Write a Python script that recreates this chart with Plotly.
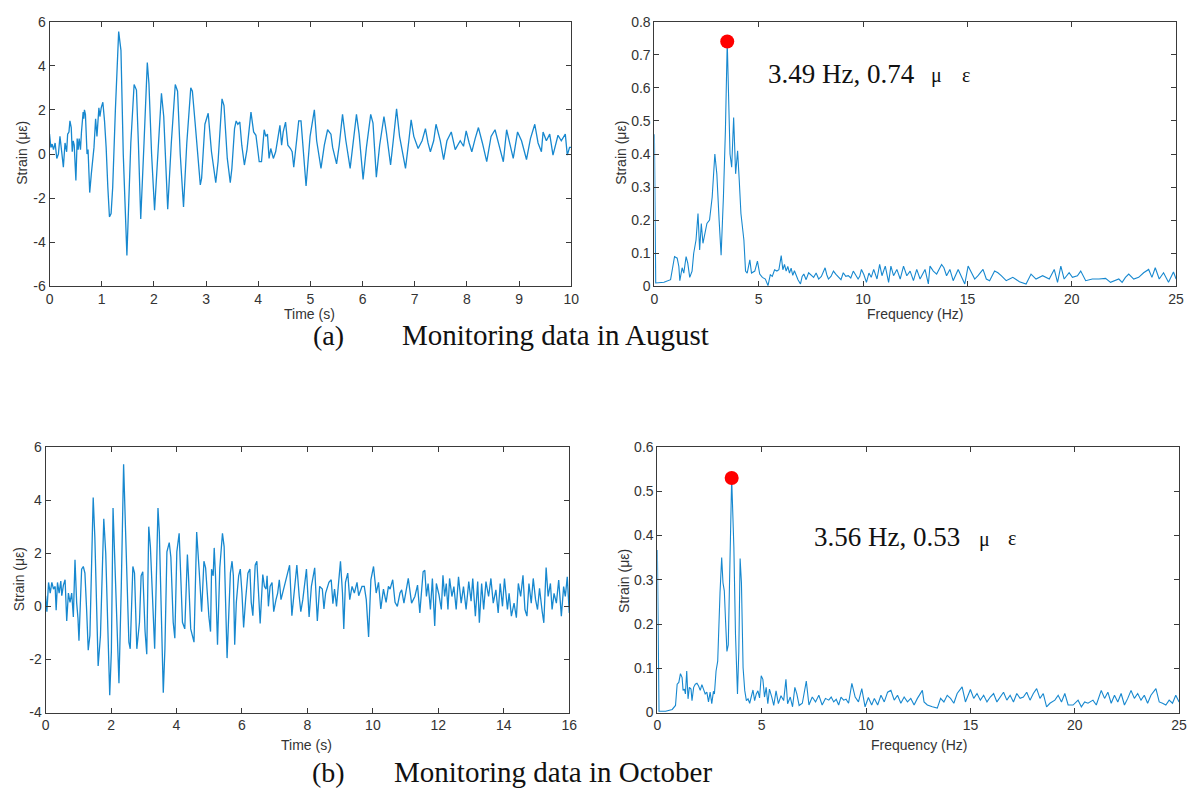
import plotly.graph_objects as go

W, H = 1196, 796

# ---------------- August time history ----------------
t_aug = [0.000, 0.025, 0.050, 0.076, 0.107, 0.139, 0.170, 0.200, 0.233, 0.265, 0.297, 0.328, 0.347, 0.372,
         0.391, 0.416, 0.435, 0.454, 0.473, 0.505, 0.530, 0.549, 0.568, 0.593, 0.612, 0.644, 0.656, 0.669,
         0.688, 0.707, 0.719, 0.738, 0.770, 0.801, 0.833, 0.852, 0.883, 0.909, 0.946, 0.965, 0.991, 1.022,
         1.054, 1.085, 1.117, 1.148, 1.180, 1.211, 1.262, 1.325, 1.369, 1.413, 1.483, 1.527, 1.558, 1.621,
         1.666, 1.703, 1.748, 1.811, 1.874, 1.905, 1.956, 2.013, 2.063, 2.145, 2.189, 2.230, 2.265, 2.334,
         2.410, 2.454, 2.505, 2.568, 2.631, 2.707, 2.738, 2.789, 2.850, 2.890, 2.915, 2.978, 3.041, 3.079,
         3.104, 3.186, 3.230, 3.306, 3.344, 3.407, 3.464, 3.495, 3.546, 3.577, 3.609, 3.647, 3.685, 3.735,
         3.785, 3.861, 3.912, 3.956, 4.019, 4.063, 4.114, 4.145, 4.177, 4.208, 4.240, 4.290, 4.334, 4.379,
         4.416, 4.448, 4.479, 4.524, 4.568, 4.618, 4.650, 4.681, 4.732, 4.776, 4.820, 4.860, 4.917, 4.994,
         5.076, 5.120, 5.203, 5.267, 5.330, 5.394, 5.426, 5.502, 5.553, 5.616, 5.680, 5.762, 5.820, 5.883,
         5.934, 6.010, 6.074, 6.156, 6.200, 6.264, 6.328, 6.410, 6.455, 6.537, 6.588, 6.652, 6.709, 6.823,
         6.887, 6.931, 6.982, 7.065, 7.141, 7.205, 7.255, 7.300, 7.363, 7.408, 7.490, 7.554, 7.617, 7.700,
         7.776, 7.872, 7.935, 7.986, 8.043, 8.094, 8.158, 8.221, 8.297, 8.380, 8.463, 8.539, 8.615, 8.698,
         8.761, 8.825, 8.888, 8.971, 9.047, 9.142, 9.218, 9.301, 9.364, 9.428, 9.460, 9.523, 9.587, 9.650,
         9.746, 9.809, 9.886, 9.924, 9.968, 10.000]
s_aug = [0.9, 0.3, 0.45, 0.2, 0.5, -0.2, 0.0, 0.8, 0.1, -0.6, 0.5, 0.1, 0.9, 1.0,
         1.5, 1.2, 0.1, 0.6, 0.4, -1.2, 0.7, 0.2, 0.7, 0.2, 1.0, 1.9, 1.6, 2.0,
         1.8, 0.9, 0.0, 0.2, -1.75, -0.9, -0.3, 0.3, 1.6, 0.8, 2.1, 1.7, 2.1, 2.35,
         1.5, 0.3, -1.5, -2.85, -2.7, -1.5, 2.0, 5.55, 4.7, 0.0, -4.6, -2.0, 0.5, 3.15,
         2.9, 0.5, -2.95, 0.5, 4.15, 3.2, 0.0, -2.55, -0.5, 2.75, 1.7, -0.8, -2.5, 0.5,
         3.15, 2.85, 0.0, -2.4, 0.5, 3.0, 2.85, 1.45, -0.5, -1.4, -1.1, 1.35, 1.85, 0.6,
         0.1, -1.3, -0.35, 2.5, 2.2, -0.2, -1.3, -0.65, 1.15, 1.5, 1.35, 1.45, 0.4, -0.5,
         0.2, 1.9, 1.0, 0.85, -0.35, -0.35, 1.1, 0.8, 0.9, -0.2, 0.25, -0.2, 0.1, 0.75,
         1.3, 0.4, 1.0, 1.45, 0.4, 0.25, 0.1, -0.6, 0.7, 1.5, 1.5, 0.2, -1.45, 0.8,
         2.0, 0.6, -0.65, 0.4, 1.1, 0.9, 0.3, -0.45, 0.4, 1.8, 0.6, -0.65, 0.5, 1.8,
         0.9, -1.15, 0.3, 1.8, 1.4, -1.05, 0.4, 1.7, 1.0, -0.5, 0.6, 2.05, 0.8, -0.65,
         0.6, 1.55, 0.8, 0.25, 0.6, 1.15, 0.5, 0.1, 0.6, 1.35, 0.6, -0.25, 0.6, 1.0,
         0.2, 0.6, 0.35, 1.05, 0.5, 0.1, 0.7, 1.2, 0.5, -0.35, 0.8, 1.1, 0.4, -0.35,
         1.1, 0.5, -0.2, 1.0, 0.6, -0.25, 0.7, 1.35, 0.5, 0.1, 1.0, 0.6, 0.9, -0.05,
         0.85, 0.6, 0.9, -0.05, 0.3, 0.3]

# ---------------- August spectrum ----------------
f_aug = [0.000, 0.063, 0.459, 0.775, 0.965, 1.092, 1.171, 1.218, 1.329, 1.408, 1.519, 1.598, 1.693, 1.804,
         1.883, 1.994, 2.089, 2.168, 2.247, 2.326, 2.405, 2.516, 2.642, 2.769, 2.896, 2.991, 3.101, 3.196,
         3.307, 3.402, 3.490, 3.528, 3.623, 3.703, 3.797, 3.892, 3.987, 4.066, 4.146, 4.288, 4.367, 4.446,
         4.573, 4.652, 4.810, 4.937, 5.047, 5.174, 5.316, 5.443, 5.554, 5.649, 5.759, 5.870, 5.965, 6.076,
         6.155, 6.234, 6.313, 6.392, 6.472, 6.551, 6.630, 6.709, 6.760, 6.880, 7.000, 7.080, 7.160, 7.270,
         7.390, 7.510, 7.630, 7.750, 7.870, 8.000, 8.180, 8.260, 8.340, 8.460, 8.580, 8.700, 8.820, 8.940,
         9.050, 9.170, 9.290, 9.410, 9.530, 9.650, 9.760, 9.840, 9.920, 10.040, 10.160, 10.280, 10.390,
         10.508, 10.667, 10.794, 10.905, 11.063, 11.222, 11.333, 11.460, 11.619, 11.778, 11.937, 12.095,
         12.254, 12.413, 12.571, 12.730, 12.968, 13.127, 13.206, 13.365, 13.524, 13.762, 13.873, 14.000,
         14.159, 14.317, 14.556, 14.714, 14.873, 15.032, 15.190, 15.349, 15.508, 15.746, 15.905, 16.063,
         16.302, 16.460, 16.619, 16.857, 17.016, 17.175, 17.492, 17.810, 18.048, 18.286, 18.603, 18.921,
         19.159, 19.317, 19.476, 19.635, 19.873, 20.032, 20.270, 20.429, 20.667, 20.984, 21.302, 21.619,
         21.857, 22.016, 22.254, 22.413, 22.571, 22.730, 22.968, 23.206, 23.444, 23.683, 23.841, 24.000,
         24.190, 24.397, 24.635, 24.873, 25.000]
a_aug = [0.46, 0.01, 0.012, 0.02, 0.09, 0.085, 0.06, 0.017, 0.056, 0.04, 0.09, 0.07, 0.027, 0.046,
         0.10, 0.14, 0.22, 0.11, 0.19, 0.13, 0.155, 0.19, 0.20, 0.27, 0.40, 0.34, 0.20, 0.094,
         0.27, 0.47, 0.74, 0.61, 0.40, 0.36, 0.51, 0.34, 0.41, 0.32, 0.22, 0.14, 0.046, 0.04,
         0.08, 0.04, 0.046, 0.076, 0.037, 0.027, 0.022, 0.002, 0.035, 0.03, 0.05, 0.046, 0.05, 0.093,
         0.05, 0.066, 0.046, 0.06, 0.04, 0.055, 0.033, 0.047, 0.037, 0.02, 0.007, 0.03, 0.037, 0.02,
         0.041, 0.035, 0.027, 0.04, 0.022, 0.03, 0.056, 0.035, 0.022, 0.03, 0.046, 0.036, 0.027, 0.02,
         0.041, 0.03, 0.032, 0.025, 0.046, 0.035, 0.022, 0.03, 0.051, 0.035, 0.012, 0.04, 0.027,
         0.051, 0.022, 0.066, 0.032, 0.061, 0.012, 0.061, 0.032, 0.051, 0.022, 0.061, 0.032,
         0.046, 0.017, 0.051, 0.022, 0.051, 0.007, 0.061, 0.046, 0.037, 0.066, 0.056, 0.032,
         0.051, 0.017, 0.051, 0.027, 0.007, 0.061, 0.041, 0.022, 0.032, 0.051, 0.022, 0.017,
         0.046, 0.041, 0.032, 0.017, 0.022, 0.027, 0.014, 0.007, 0.037, 0.022, 0.032, 0.022,
         0.051, 0.012, 0.061, 0.022, 0.041, 0.027, 0.032, 0.046, 0.017, 0.022, 0.022, 0.024,
         0.012, 0.017, 0.022, 0.012, 0.027, 0.037, 0.022, 0.027, 0.041, 0.051, 0.027, 0.056,
         0.022, 0.041, 0.012, 0.043, 0.022]

# ---------------- October time history ----------------
t_oct = [0.000, 0.040, 0.091, 0.141, 0.192, 0.242, 0.293, 0.323, 0.364, 0.414, 0.465, 0.495, 0.545, 0.596,
         0.646, 0.697, 0.747, 0.798, 0.848, 0.899, 0.949, 0.990, 1.020, 1.051, 1.101, 1.152, 1.202, 1.253,
         1.303, 1.354, 1.455, 1.505, 1.606, 1.677, 1.778, 1.838, 1.960, 2.010, 2.061, 2.131, 2.242, 2.313,
         2.384, 2.444, 2.545, 2.586, 2.667, 2.717, 2.788, 2.869, 2.919, 2.970, 3.040, 3.091, 3.152, 3.202,
         3.273, 3.333, 3.434, 3.475, 3.596, 3.646, 3.707, 3.778, 3.828, 3.899, 3.949, 4.010, 4.081, 4.131,
         4.182, 4.253, 4.333, 4.364, 4.434, 4.535, 4.616, 4.687, 4.768, 4.838, 4.889, 4.990, 5.040,
         5.071, 5.121, 5.152, 5.192, 5.253, 5.323, 5.404, 5.455, 5.545, 5.596, 5.646, 5.697, 5.737, 5.778,
         5.828, 5.899, 5.949, 6.000, 6.051, 6.111, 6.182, 6.242, 6.283, 6.333, 6.404, 6.455, 6.505, 6.556,
         6.636, 6.687, 6.737, 6.768, 6.808, 6.859, 6.919, 6.970, 7.040, 7.091, 7.141, 7.192, 7.242, 7.343,
         7.414, 7.455, 7.525, 7.596, 7.677, 7.747, 7.798, 7.859, 7.970, 8.051, 8.121, 8.222, 8.303, 8.374,
         8.455, 8.505, 8.556, 8.657, 8.727, 8.778, 8.828, 8.889, 8.960, 9.010, 9.071, 9.111, 9.162, 9.232,
         9.293, 9.364, 9.434, 9.515, 9.566, 9.667, 9.737, 9.798, 9.869, 9.939, 10.020, 10.101, 10.172,
         10.242, 10.323, 10.404, 10.475, 10.525, 10.606, 10.677, 10.747, 10.828,
         10.879, 10.949, 11.081, 11.182, 11.283, 11.364, 11.434, 11.535, 11.586, 11.636, 11.687, 11.758,
         11.818, 11.889, 11.939, 12.020, 12.091, 12.141, 12.192, 12.242, 12.293, 12.343, 12.414, 12.475,
         12.545, 12.616, 12.697, 12.768, 12.848, 12.929, 13.000, 13.051, 13.131, 13.202, 13.253, 13.323,
         13.384, 13.455, 13.535, 13.606, 13.677, 13.758, 13.828, 13.889, 13.960, 14.020, 14.111, 14.162,
         14.232, 14.313, 14.384, 14.444, 14.515, 14.586, 14.646, 14.707, 14.768, 14.838, 14.899, 14.970,
         15.030, 15.091, 15.172, 15.222, 15.293, 15.354, 15.424, 15.475, 15.535, 15.606, 15.677, 15.758,
         15.828, 15.879, 15.939, 16.000]
s_oct = [0.4, -0.2, 0.9, 0.5, 0.9, 0.65, 0.75, -0.15, 0.9, 0.5, 0.95, 0.4, 0.8, 1.0,
         -0.55, 0.5, 0.15, 0.5, -0.4, 1.75, 0.15, -0.45, -1.3, -0.35, 1.4, 1.5, 1.25, -0.1,
         -1.65, -1.1, 4.1, 2.6, -2.25, -1.1, 3.3, 2.0, -3.35, -1.7, 3.7, 1.15, -2.9, 0.75,
         5.35, 2.85, -1.35, -1.6, 1.5, 1.25, -1.6, -0.6, 1.15, 1.3, -0.95, -1.8, 3.0, 2.25,
         0.45, -1.6, 3.7, 2.8, -3.25, -1.6, 2.05, 2.4, 1.85, -0.6, -1.2, 2.05, 2.75, 1.15,
         -0.6, -0.85, 1.95, 1.2, -0.85, -1.35, 2.8, 1.45, -0.2, 1.7, 1.45, -0.4, -0.95,
         1.4, 1.15, 2.2, 1.15, -1.45, 1.45, 2.75, 2.25, -1.95, -0.1, 1.25, 1.7, 1.15, -1.45,
         0.15, 1.15, 1.4, 0.5, -0.8, 0.25, 1.25, 1.4, 0.15, -0.35, 1.55, 1.7, 0.4, -0.65,
         1.2, 0.75, 0.65, 1.15, 0.0, 0.75, 0.9, -0.2, 0.25, 0.5, 1.0, 0.25, 0.5, 1.0,
         1.45, 1.55, -0.35, 0.5, 1.55, 0.4, -0.2, 0.25, 1.4, -0.4, 0.75, 1.45, -0.55, 0.75,
         0.65, -0.1, 0.5, 0.9, 1.0, 0.1, 0.65, 0.0, 0.9, 1.7, 0.5, -0.85, 0.9, 1.25,
         0.25, 0.75, 0.5, 0.9, 0.4, 0.75, 0.75, 0.25, -1.15, 1.0, 1.5, 0.5, 0.9,
         -0.1, 0.65, 0.15, 0.75, 0.65, 1.0, 0.15, 0.0, 0.5,
         0.62, 0.12, 1.05, 0.12, 0.37, 0.8, -0.25, 1.3, 1.36, 0.37, 0.86, -0.12,
         1.05, -0.74, 0.86, 0.43, -0.12, 1.17, 0.37, 0.86, -0.12, 1.05, 0.37, 0.74,
         -0.12, 1.11, 0.12, 0.74, -0.12, 0.93, 0.19, 1.05, -0.37, 0.93, -0.62, 0.86,
         -0.12, 0.93, 0.37, 1.05, 0.12, 0.62, -0.25, 0.86, 0.0, 1.05, -0.12, 0.49,
         -0.37, 0.12, -0.43, 0.86, 0.37, 1.17, -0.12, -0.37, 0.86, 0.12, 1.05, 0.25,
         -0.12, 0.68, -0.19, -0.62, 1.46, 0.37, 0.86, -0.12, 0.49, 0.12, 0.99, -0.37,
         0.74, 0.37, 1.11, -0.25]

# ---------------- October spectrum ----------------
f_oct = [0.000, 0.079, 0.395, 0.711, 0.869, 0.948, 1.027, 1.106, 1.185, 1.232, 1.295, 1.343, 1.406, 1.469,
         1.532, 1.611, 1.659, 1.738, 1.817, 1.896, 1.975, 2.054, 2.133, 2.212, 2.291, 2.370, 2.449, 2.528,
         2.607, 2.686, 2.733, 2.812, 2.891, 3.002, 3.081, 3.144, 3.207, 3.270, 3.333, 3.397, 3.476, 3.560,
         3.665, 3.744, 3.839, 3.902, 3.965, 4.028, 4.107, 4.186, 4.265, 4.344, 4.423, 4.502, 4.581, 4.660,
         4.739, 4.818, 4.897, 4.976, 5.055, 5.134, 5.213, 5.292, 5.371, 5.482, 5.577, 5.687, 5.798, 5.924,
         6.051, 6.161, 6.240, 6.367, 6.477, 6.588, 6.682, 6.793, 6.946, 7.136, 7.263, 7.421, 7.579, 7.737,
         7.896, 8.054, 8.212, 8.330, 8.449, 8.570, 8.687, 8.800, 8.924, 9.040, 9.161, 9.320, 9.478, 9.636,
         9.795, 9.953, 10.111, 10.269,
         10.397, 10.556, 10.714, 10.873, 11.032, 11.190, 11.349, 11.508, 11.667, 11.825, 11.984, 12.143,
         12.302, 12.460, 12.698, 12.778, 12.937, 13.175, 13.413, 13.571, 13.730, 13.889, 14.048, 14.206,
         14.365, 14.603, 14.762, 15.000, 15.159, 15.317, 15.476, 15.635, 15.794, 15.952, 16.111, 16.270,
         16.429, 16.587, 16.746, 16.905, 17.063, 17.222, 17.381, 17.540, 17.698, 17.857, 18.016, 18.175,
         18.333, 18.492, 18.651, 18.810, 19.048, 19.206, 19.365, 19.524, 19.683, 19.921, 20.159, 20.317,
         20.476, 20.635, 20.873, 21.032, 21.270, 21.429, 21.587, 21.746, 21.905, 22.063, 22.222, 22.381,
         22.540, 22.698, 22.857, 23.016, 23.175, 23.333, 23.492, 23.651, 23.889, 24.048, 24.206, 24.365,
         24.524, 24.683, 24.841, 25.000]
a_oct = [0.367, 0.003, 0.003, 0.007, 0.016, 0.064, 0.068, 0.088, 0.079, 0.05, 0.053, 0.042, 0.094, 0.031,
         0.057, 0.053, 0.027, 0.057, 0.064, 0.066, 0.06, 0.05, 0.063, 0.05, 0.042, 0.046, 0.024, 0.046,
         0.02, 0.048, 0.042, 0.094, 0.116, 0.271, 0.35, 0.293, 0.275, 0.204, 0.138, 0.153, 0.32, 0.53,
         0.374, 0.175, 0.042, 0.138, 0.348, 0.293, 0.101, 0.05, 0.027, 0.031, 0.021, 0.035, 0.051, 0.027,
         0.042, 0.049, 0.033, 0.083, 0.075, 0.035, 0.057, 0.02, 0.053, 0.035, 0.016, 0.049, 0.02, 0.038,
         0.027, 0.075, 0.02, 0.035, 0.013, 0.057, 0.042, 0.016, 0.021, 0.071, 0.017, 0.035, 0.024, 0.039,
         0.017, 0.032, 0.028, 0.035, 0.024, 0.03, 0.017, 0.035, 0.028, 0.03, 0.021, 0.066, 0.035, 0.024,
         0.054, 0.013, 0.034, 0.017,
         0.032, 0.017, 0.039, 0.024, 0.046, 0.05, 0.028, 0.039, 0.021, 0.035, 0.024, 0.032,
         0.017, 0.032, 0.05, 0.024, 0.017, 0.013, 0.01, 0.032, 0.024, 0.039, 0.032, 0.021,
         0.043, 0.058, 0.024, 0.052, 0.032, 0.043, 0.028, 0.039, 0.024, 0.035, 0.043, 0.024,
         0.035, 0.046, 0.028, 0.039, 0.024, 0.043, 0.032, 0.035, 0.046, 0.028, 0.043, 0.054,
         0.032, 0.043, 0.013, 0.021, 0.028, 0.039, 0.024, 0.043, 0.017, 0.017, 0.028, 0.013,
         0.024, 0.021, 0.028, 0.017, 0.05, 0.032, 0.046, 0.021, 0.039, 0.024, 0.043, 0.017,
         0.032, 0.05, 0.032, 0.043, 0.028, 0.039, 0.021, 0.039, 0.054, 0.024, 0.021, 0.017,
         0.028, 0.021, 0.039, 0.024]

peak_aug = (3.49, 0.74)
peak_oct = (3.56, 0.53)

# tick definitions
xt_aug = list(range(0, 11))
yt_aug = [-6, -4, -2, 0, 2, 4, 6]
xt_oct = list(range(0, 17, 2))
yt_oct = [-4, -2, 0, 2, 4, 6]
xt_f = [0, 5, 10, 15, 20, 25]
yt_fa = [0, 0.1, 0.2, 0.3, 0.4, 0.5, 0.6, 0.7, 0.8]
yt_fb = [0, 0.1, 0.2, 0.3, 0.4, 0.5, 0.6]

LINE = '#1788cf'
AX = '#3a3a3a'
TXT = '#333333'
SANS = 'Liberation Sans, Arial, sans-serif'
SERIF = 'Liberation Serif, Times New Roman, serif'


def lab(v):
    return '0' if v == 0 else (f'{v:g}')


def axis(domain, rng, ticks, anchor):
    return dict(domain=domain, range=rng, tickvals=ticks, ticktext=[lab(v) for v in ticks],
                showline=True, linecolor=AX, linewidth=1, mirror='ticks', ticks='inside',
                ticklen=5, tickcolor=AX, tickwidth=1, showgrid=False, zeroline=False,
                tickfont=dict(family=SANS, size=14, color=TXT), anchor=anchor, fixedrange=True)


def dx(x0, x1):
    return [x0 / W, x1 / W]


def dy(y0, y1):
    return [1 - y1 / H, 1 - y0 / H]


fig = go.Figure()
fig.add_trace(go.Scatter(x=t_aug, y=s_aug, mode='lines', line=dict(color=LINE, width=1.3),
                         xaxis='x', yaxis='y'))
fig.add_trace(go.Scatter(x=f_aug, y=a_aug, mode='lines', line=dict(color=LINE, width=1.1),
                         xaxis='x2', yaxis='y2'))
fig.add_trace(go.Scatter(x=[peak_aug[0]], y=[peak_aug[1]], mode='markers',
                         marker=dict(color='#ff0000', size=14), xaxis='x2', yaxis='y2'))
fig.add_trace(go.Scatter(x=t_oct, y=s_oct, mode='lines', line=dict(color=LINE, width=1.3),
                         xaxis='x3', yaxis='y3'))
fig.add_trace(go.Scatter(x=f_oct, y=a_oct, mode='lines', line=dict(color=LINE, width=1.1),
                         xaxis='x4', yaxis='y4'))
fig.add_trace(go.Scatter(x=[peak_oct[0]], y=[peak_oct[1]], mode='markers',
                         marker=dict(color='#ff0000', size=14), xaxis='x4', yaxis='y4'))


def ann(text, x, y, size, family=SANS, xanchor='center', angle=0, color=TXT):
    return dict(text=text, x=x / W, y=1 - y / H, xref='paper', yref='paper', showarrow=False,
                xanchor=xanchor, yanchor='middle', textangle=angle,
                font=dict(family=family, size=size, color=color))


annotations = [
    ann('Time (s)', 309, 312, 14),
    ann('Frequency (Hz)', 920, 312, 14),
    ann('Time (s)', 306, 752, 14),
    ann('Frequency (Hz)', 924, 752, 14),
    ann('Strain (με)', 18, 148, 14, angle=-90),
    ann('Strain (με)', 623, 148, 14, angle=-90),
    ann('Strain (με)', 15, 583, 14, angle=-90),
    ann('Strain (με)', 627, 585, 14, angle=-90),
    ann('(a)', 328, 334, 28, family=SERIF, color='#111111'),
    ann('Monitoring data in August', 400, 334, 29, family=SERIF, xanchor='left', color='#111111'),
    ann('(b)', 328, 780, 28, family=SERIF, color='#111111'),
    ann('Monitoring data in October', 392, 780, 29, family=SERIF, xanchor='left', color='#111111'),
    ann('3.49 Hz, 0.74', 770, 67, 27, family=SERIF, xanchor='left', color='#111111'),
    ann('μ', 942, 69, 20, family=SERIF, color='#111111'),
    ann('ε', 972, 68, 20, family=SERIF, color='#111111'),
    ann('3.56 Hz, 0.53', 816, 540, 27, family=SERIF, xanchor='left', color='#111111'),
    ann('μ', 990, 542, 20, family=SERIF, color='#111111'),
    ann('ε', 1018, 541, 20, family=SERIF, color='#111111'),
]

fig.update_layout(
    width=W, height=H, margin=dict(l=0, r=0, t=0, b=0),
    paper_bgcolor='white', plot_bgcolor='white', showlegend=False,
    xaxis=axis(dx(46, 573), [0, 10], xt_aug, 'y'),
    yaxis=axis(dy(14, 284), [-6, 6], yt_aug, 'x'),
    xaxis2=axis(dx(657, 1184), [0, 25], xt_f, 'y2'),
    yaxis2=axis(dy(14, 284), [0, 0.8], yt_fa, 'x2'),
    xaxis3=axis(dx(42, 571), [0, 16], xt_oct, 'y3'),
    yaxis3=axis(dy(448, 719), [-4, 6], yt_oct, 'x3'),
    xaxis4=axis(dx(660, 1187), [0, 25], xt_f, 'y4'),
    yaxis4=axis(dy(448, 719), [0, 0.6], yt_fb, 'x4'),
    annotations=annotations,
)

fig.write_html('out.html')
